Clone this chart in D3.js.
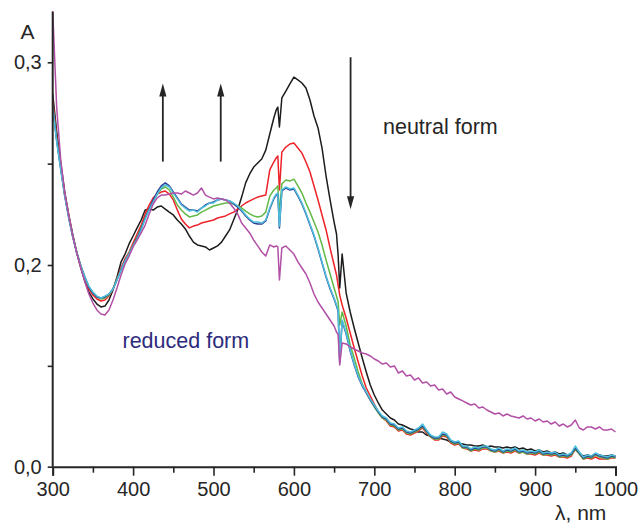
<!DOCTYPE html>
<html>
<head>
<meta charset="utf-8">
<script src="https://cdn.jsdelivr.net/npm/d3@7"></script>
<style>
  html, body { margin: 0; padding: 0; background: #fff; }
  svg { display: block; font-family: "Liberation Sans", Arial, Helvetica, sans-serif; }
</style>
</head>
<body>
<svg id="chart" width="640" height="524"></svg>
<script>
// Wavelength grid, nm
const wavelengths = [300,305,310,315,320,325,330,335,340,345,350,355,360,365,370,375,380,385,390,395,
  400,405,410,415,420,425,430,435,440,445,450,455,460,465,470,475,480,485,490,495,
  500,505,510,515,520,525,530,535,540,545,550,555,560,565,570,575,578,580,582,585,
  590,595,600,605,610,615,620,625,630,635,640,645,650,653,655,657,
  660,665,670,675,680,685,690,695,
  700,705,710,715,720,725,730,735,740,745,
  750,755,760,765,770,775,780,785,790,795,
  800,805,810,815,820,825,830,835,840,845,
  850,855,860,865,870,875,880,885,890,895,
  900,905,910,915,920,925,930,935,940,945,
  950,955,960,965,970,975,980,985,990,995,1000];

// Absorbance of the neutral form (black)
const neutralForm = [0.2844,0.2656,0.2503,0.2360,0.2247,0.2148,0.2059,0.1970,0.1841,0.1732,0.1663,0.1613,0.1584,0.1593,0.1653,0.1752,0.1881,0.2015,0.2054,0.2104,
  0.2143,0.2183,0.2222,0.2271,0.2276,0.2271,0.2286,0.2291,0.2276,0.2261,0.2247,0.2222,0.2202,0.2178,0.2143,0.2113,0.2099,0.2094,0.2089,0.2074,
  0.2084,0.2094,0.2113,0.2143,0.2173,0.2222,0.2271,0.2335,0.2405,0.2449,0.2483,0.2503,0.2523,0.2567,0.2646,0.2725,0.2765,0.2779,0.2681,0.2824,
  0.2858,0.2893,0.2927,0.2913,0.2898,0.2873,0.2814,0.2735,0.2676,0.2577,0.2439,0.2321,0.2212,0.2153,0.2049,0.1772,
  0.2054,0.1722,0.1534,0.1375,0.1226,0.1078,0.0939,0.0810,
  0.0711,0.0632,0.0562,0.0523,0.0483,0.0463,0.0423,0.0413,0.0394,0.0374,
  0.0364,0.0344,0.0344,0.0314,0.0304,0.0285,0.0285,0.0275,0.0265,0.0245,
  0.0245,0.0235,0.0225,0.0215,0.0215,0.0205,0.0205,0.0215,0.0196,0.0205,
  0.0196,0.0196,0.0186,0.0196,0.0186,0.0196,0.0176,0.0186,0.0166,0.0176,
  0.0156,0.0166,0.0146,0.0156,0.0136,0.0146,0.0126,0.0136,0.0116,0.0126,
  0.0166,0.0136,0.0106,0.0116,0.0106,0.0126,0.0116,0.0106,0.0106,0.0116,0.0106];

// Intermediate spectra during reduction
const stage1 = [0.2814,0.2631,0.2488,0.2350,0.2242,0.2143,0.2059,0.1980,0.1861,0.1762,0.1702,0.1663,0.1643,0.1653,0.1692,0.1762,0.1861,0.1970,0.2030,0.2064,
  0.2109,0.2153,0.2197,0.2252,0.2296,0.2331,0.2350,0.2360,0.2365,0.2350,0.2321,0.2271,0.2227,0.2202,0.2183,0.2192,0.2197,0.2207,0.2212,0.2217,
  0.2222,0.2232,0.2237,0.2242,0.2252,0.2261,0.2276,0.2291,0.2306,0.2316,0.2326,0.2335,0.2340,0.2345,0.2469,0.2508,0.2528,0.2538,0.2370,0.2557,
  0.2582,0.2597,0.2602,0.2577,0.2552,0.2508,0.2459,0.2390,0.2321,0.2247,0.2173,0.2084,0.2000,0.1901,0.1801,0.1702,
  0.1603,0.1475,0.1326,0.1177,0.1038,0.0899,0.0780,0.0701,
  0.0622,0.0542,0.0483,0.0453,0.0404,0.0394,0.0354,0.0364,0.0324,0.0314,
  0.0334,0.0354,0.0384,0.0334,0.0295,0.0265,0.0265,0.0304,0.0295,0.0235,
  0.0215,0.0225,0.0186,0.0176,0.0156,0.0166,0.0156,0.0176,0.0176,0.0156,
  0.0146,0.0156,0.0136,0.0146,0.0136,0.0156,0.0136,0.0146,0.0126,0.0126,
  0.0116,0.0136,0.0116,0.0116,0.0106,0.0116,0.0096,0.0096,0.0086,0.0106,
  0.0176,0.0126,0.0076,0.0086,0.0076,0.0096,0.0076,0.0076,0.0076,0.0086,0.0086];

const stage2 = [0.2789,0.2617,0.2478,0.2345,0.2237,0.2143,0.2064,0.1990,0.1881,0.1781,0.1722,0.1683,0.1663,0.1673,0.1702,0.1762,0.1861,0.1950,0.2020,0.2059,
  0.2099,0.2138,0.2183,0.2232,0.2276,0.2316,0.2350,0.2375,0.2385,0.2370,0.2335,0.2296,0.2271,0.2252,0.2237,0.2242,0.2247,0.2261,0.2271,0.2281,
  0.2291,0.2296,0.2301,0.2306,0.2306,0.2301,0.2291,0.2281,0.2266,0.2252,0.2242,0.2237,0.2242,0.2261,0.2340,0.2370,0.2380,0.2390,0.2252,0.2400,
  0.2419,0.2414,0.2424,0.2390,0.2355,0.2306,0.2261,0.2212,0.2163,0.2099,0.2025,0.1911,0.1772,0.1692,0.1633,0.1405,
  0.1534,0.1395,0.1207,0.1078,0.0939,0.0820,0.0741,0.0661,
  0.0592,0.0533,0.0483,0.0463,0.0413,0.0404,0.0364,0.0374,0.0334,0.0324,
  0.0344,0.0364,0.0394,0.0344,0.0295,0.0275,0.0275,0.0314,0.0304,0.0245,
  0.0225,0.0235,0.0186,0.0186,0.0156,0.0176,0.0166,0.0186,0.0186,0.0156,
  0.0146,0.0166,0.0136,0.0156,0.0146,0.0166,0.0136,0.0146,0.0126,0.0136,
  0.0126,0.0146,0.0116,0.0126,0.0116,0.0126,0.0096,0.0106,0.0096,0.0116,
  0.0176,0.0126,0.0076,0.0096,0.0086,0.0116,0.0096,0.0086,0.0076,0.0096,0.0086];

const stage3 = [0.2784,0.2612,0.2474,0.2340,0.2232,0.2138,0.2059,0.1990,0.1881,0.1781,0.1722,0.1683,0.1673,0.1683,0.1712,0.1762,0.1851,0.1950,0.2020,0.2054,
  0.2094,0.2133,0.2178,0.2232,0.2276,0.2321,0.2360,0.2390,0.2405,0.2390,0.2360,0.2331,0.2301,0.2286,0.2271,0.2271,0.2266,0.2281,0.2296,0.2306,
  0.2311,0.2321,0.2326,0.2321,0.2316,0.2301,0.2286,0.2266,0.2242,0.2222,0.2207,0.2202,0.2202,0.2217,0.2276,0.2326,0.2345,0.2350,0.2183,0.2365,
  0.2380,0.2370,0.2375,0.2340,0.2301,0.2252,0.2197,0.2143,0.2079,0.2010,0.1881,0.1762,0.1663,0.1593,0.1544,0.1038,
  0.1445,0.1316,0.1147,0.1008,0.0889,0.0800,0.0731,0.0661,
  0.0602,0.0542,0.0493,0.0473,0.0423,0.0413,0.0374,0.0384,0.0344,0.0334,
  0.0354,0.0374,0.0404,0.0354,0.0304,0.0285,0.0285,0.0324,0.0314,0.0255,
  0.0235,0.0245,0.0196,0.0196,0.0166,0.0186,0.0176,0.0196,0.0196,0.0166,
  0.0156,0.0176,0.0146,0.0166,0.0156,0.0176,0.0146,0.0156,0.0136,0.0146,
  0.0136,0.0156,0.0126,0.0136,0.0126,0.0136,0.0106,0.0116,0.0106,0.0126,
  0.0186,0.0136,0.0086,0.0106,0.0096,0.0126,0.0106,0.0096,0.0086,0.0106,0.0096];

const stage4 = [0.2779,0.2607,0.2469,0.2340,0.2232,0.2138,0.2059,0.1990,0.1881,0.1791,0.1732,0.1692,0.1673,0.1692,0.1712,0.1762,0.1851,0.1950,0.2020,0.2054,
  0.2094,0.2128,0.2173,0.2227,0.2271,0.2311,0.2350,0.2380,0.2395,0.2385,0.2355,0.2326,0.2296,0.2281,0.2266,0.2271,0.2261,0.2281,0.2291,0.2306,
  0.2306,0.2321,0.2326,0.2321,0.2316,0.2306,0.2291,0.2271,0.2247,0.2227,0.2212,0.2212,0.2207,0.2222,0.2281,0.2331,0.2350,0.2355,0.2192,0.2370,
  0.2385,0.2375,0.2380,0.2345,0.2306,0.2257,0.2202,0.2148,0.2084,0.2015,0.1891,0.1772,0.1673,0.1603,0.1554,0.1028,
  0.1455,0.1326,0.1157,0.1018,0.0899,0.0810,0.0741,0.0671,
  0.0612,0.0552,0.0503,0.0483,0.0433,0.0423,0.0384,0.0394,0.0354,0.0344,
  0.0364,0.0384,0.0423,0.0364,0.0314,0.0295,0.0295,0.0344,0.0324,0.0265,
  0.0245,0.0255,0.0205,0.0205,0.0176,0.0196,0.0186,0.0205,0.0205,0.0176,
  0.0166,0.0186,0.0156,0.0176,0.0166,0.0186,0.0156,0.0166,0.0146,0.0156,
  0.0146,0.0166,0.0136,0.0146,0.0136,0.0146,0.0116,0.0126,0.0116,0.0136,
  0.0205,0.0146,0.0096,0.0116,0.0106,0.0136,0.0116,0.0106,0.0096,0.0116,0.0106];

// Absorbance of the reduced form (magenta)
const reducedForm = [0.3253,0.2774,0.2518,0.2355,0.2242,0.2143,0.2059,0.1970,0.1831,0.1712,0.1623,0.1554,0.1514,0.1504,0.1554,0.1653,0.1772,0.1901,0.2005,0.2044,
  0.2089,0.2123,0.2158,0.2197,0.2252,0.2301,0.2331,0.2345,0.2345,0.2350,0.2355,0.2355,0.2350,0.2365,0.2355,0.2345,0.2355,0.2380,0.2345,0.2335,
  0.2326,0.2331,0.2326,0.2321,0.2306,0.2281,0.2252,0.2207,0.2183,0.2158,0.2123,0.2094,0.2064,0.2044,0.2099,0.2089,0.2094,0.2089,0.1851,0.2084,
  0.2094,0.2074,0.2054,0.2015,0.1970,0.1911,0.1821,0.1712,0.1633,0.1574,0.1514,0.1455,0.1395,0.1336,0.1306,0.1008,
  0.1226,0.1217,0.1187,0.1167,0.1147,0.1127,0.1117,0.1098,
  0.1068,0.1048,0.1018,0.1028,0.0989,0.0999,0.0929,0.0949,0.0899,0.0909,
  0.0860,0.0880,0.0830,0.0840,0.0800,0.0810,0.0760,0.0770,0.0721,0.0741,
  0.0691,0.0671,0.0652,0.0632,0.0612,0.0622,0.0582,0.0592,0.0562,0.0542,
  0.0523,0.0533,0.0503,0.0523,0.0503,0.0493,0.0483,0.0503,0.0473,0.0483,
  0.0453,0.0473,0.0443,0.0453,0.0423,0.0443,0.0404,0.0423,0.0394,0.0413,
  0.0463,0.0384,0.0364,0.0394,0.0394,0.0374,0.0394,0.0364,0.0364,0.0374,0.0344];

const xTickValues = [300,400,500,600,700,800,900,1000];
const xMinorTicks = [350,450,550,650,750,850,950];
const yTickValues = [0, 0.1, 0.2, 0.25, 0.3];
const yTickLabels = { 0: "0,0", 0.2: "0,2", 0.3: "0,3" };

const series = [
  { name: "neutral", values: neutralForm, color: "#1c1c1c" },
  { name: "stage1", values: stage1, color: "#ee2229" },
  { name: "stage2", values: stage2, color: "#62b947" },
  { name: "stage3", values: stage3, color: "#2f3f95" },
  { name: "stage4", values: stage4, color: "#4cbfdc" },
  { name: "reduced", values: reducedForm, color: "#b24fa6" }
];

const svg = d3.select("#chart");
const ink = "#262626";

const x = d3.scaleLinear().domain([300, 1000]).range([52.7, 615.5]);
// The absorbance axis is split: 0–0.2 occupies the lower half, 0.2–0.3 the upper half
const y = d3.scaleLinear().domain([0, 0.2, 0.3]).range([466.7, 265, 62.3]);

// spectra
const line = d3.line()
  .x((d, i) => x(wavelengths[i]))
  .y(d => y(d));

svg.append("g")
  .selectAll("path")
  .data(series)
  .join("path")
  .attr("fill", "none")
  .attr("stroke", d => d.color)
  .attr("stroke-width", 1.5)
  .attr("stroke-linejoin", "round")
  .attr("d", d => line(d.values));

// x axis: major ticks with labels, minor ticks without
const xAxisG = svg.append("g").attr("transform", `translate(0,${y(0)})`);
xAxisG.call(d3.axisBottom(x).tickValues(xTickValues).tickSize(9).tickPadding(6).tickFormat(d3.format("d")));
const xMinorG = svg.append("g").attr("transform", `translate(0,${y(0)})`);
xMinorG.call(d3.axisBottom(x).tickValues(xMinorTicks).tickSize(6).tickFormat(""));
xMinorG.select(".domain").remove();

// y axis
const yAxisG = svg.append("g").attr("transform", `translate(${x(300)},0)`);
yAxisG.call(d3.axisLeft(y).tickValues(yTickValues).tickSize(5).tickPadding(6)
  .tickFormat(d => yTickLabels[d] || ""));
yAxisG.select(".domain").remove();
svg.append("line")
  .attr("x1", x(300)).attr("x2", x(300))
  .attr("y1", y(0)).attr("y2", y(0.325))
  .attr("stroke", ink).attr("stroke-width", 2);

svg.selectAll(".domain").attr("stroke", ink).attr("stroke-width", 2);
svg.selectAll(".tick line").attr("stroke", ink).attr("stroke-width", 1.6);
svg.selectAll(".tick text")
  .attr("font-size", 20)
  .attr("fill", ink)
  .attr("font-family", "'Liberation Sans', Arial, sans-serif");

// axis titles
svg.append("text").attr("x", 20.5).attr("y", 38.5)
  .attr("font-size", 21).attr("fill", ink).text("A");
svg.append("text").attr("x", 555).attr("y", 520)
  .attr("font-size", 21).attr("fill", ink).text("λ, nm");

// arrows showing the direction of change
const arrows = [
  { wl: 437, from: 0.251, to: 0.2895 },
  { wl: 509, from: 0.251, to: 0.2895 },
  { wl: 670.5, from: 0.3025, to: 0.2275 }
];
const arrowG = svg.append("g");
arrows.forEach(a => {
  const ax = x(a.wl), y0 = y(a.from), y1 = y(a.to);
  const dir = y1 < y0 ? 1 : -1;   // 1 = pointing up
  const headLen = 13, headHalf = 3.6;
  arrowG.append("line")
    .attr("x1", ax).attr("x2", ax)
    .attr("y1", y0).attr("y2", y1 + dir * headLen * 0.8)
    .attr("stroke", ink).attr("stroke-width", 1.8);
  arrowG.append("path")
    .attr("d", `M${ax},${y1} L${ax - headHalf},${y1 + dir * headLen} L${ax + headHalf},${y1 + dir * headLen} Z`)
    .attr("fill", ink);
});

// form labels
svg.append("text").attr("x", 383).attr("y", 133.5)
  .attr("font-size", 21.5).attr("fill", ink).text("neutral form");
svg.append("text").attr("x", 122.5).attr("y", 348)
  .attr("font-size", 21.5).attr("fill", "#2d2c7c").text("reduced form");
</script>
</body>
</html>
